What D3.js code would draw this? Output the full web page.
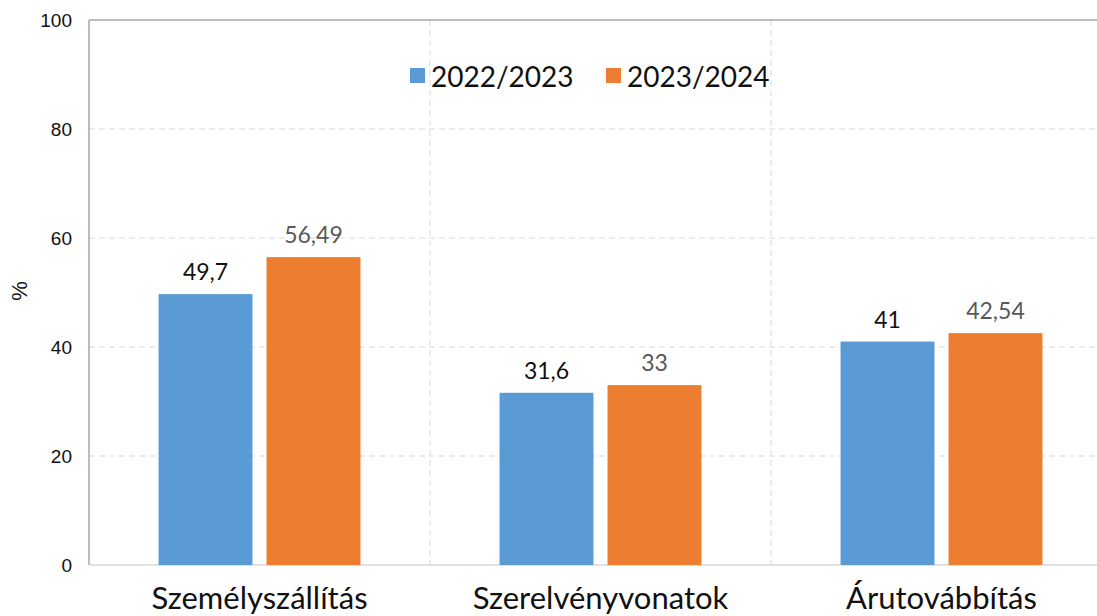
<!DOCTYPE html>
<html>
<head>
<meta charset="utf-8">
<script src="https://cdn.jsdelivr.net/npm/d3@7"></script>
<style>
  body { margin: 0; background: #fff; }
  svg { display: block; }
</style>
</head>
<body>
<svg id="chart" width="1097" height="616"></svg>
<script>
const categories = ["Személyszállítás", "Szerelvényvonatok", "Árutovábbítás"];
const seriesNames = ["2022/2023", "2023/2024"];
const values2022 = [49.7, 31.6, 41];
const values2023 = [56.49, 33, 42.54];
const labels2022 = ["49,7", "31,6", "41"];
const labels2023 = ["56,49", "33", "42,54"];
const yTicks = [0, 20, 40, 60, 80, 100];

const colors = ["#5b9bd5", "#ed7d31"];
const labelColors = ["#111", "#595959"];

const svg = d3.select("#chart");
const plotLeft = 89, plotTop = 20, plotBottom = 565, plotRight = 1112;

const x = d3.scaleBand().domain(categories).range([plotLeft, plotRight]);
const x1 = d3.scaleBand().domain(seriesNames).range([0, x.bandwidth()]).paddingInner(0.13).paddingOuter(0.644);
const y = d3.scaleLinear().domain([0, 100]).range([plotBottom, plotTop]);

// gridlines
svg.append("g").selectAll("line").data(yTicks.filter(d => d > 0 && d < 100)).enter()
  .append("line")
  .attr("x1", plotLeft).attr("x2", plotRight)
  .attr("y1", d => y(d)).attr("y2", d => y(d))
  .attr("stroke", "#d9d9d9").attr("stroke-dasharray", "6,4");

// vertical category separators
svg.append("g").selectAll("line").data(categories.slice(1)).enter()
  .append("line")
  .attr("x1", d => x(d)).attr("x2", d => x(d))
  .attr("y1", plotTop).attr("y2", plotBottom)
  .attr("stroke", "#d9d9d9").attr("stroke-dasharray", "6,4");

// borders
svg.append("line").attr("x1", plotLeft).attr("x2", plotRight).attr("y1", plotTop).attr("y2", plotTop)
  .attr("stroke", "#a6a6a6").attr("stroke-width", 1.5);
svg.append("line").attr("x1", plotLeft).attr("x2", plotLeft).attr("y1", plotTop).attr("y2", plotBottom)
  .attr("stroke", "#a6a6a6").attr("stroke-width", 1.5);
svg.append("line").attr("x1", plotLeft).attr("x2", plotRight).attr("y1", plotBottom).attr("y2", plotBottom)
  .attr("stroke", "#d9d9d9").attr("stroke-width", 1.5);

// y tick labels
svg.append("g").selectAll("text").data(yTicks).enter()
  .append("text")
  .attr("x", 72).attr("y", d => y(d) + 7)
  .attr("text-anchor", "end")
  .attr("font-family", "Liberation Sans, Arial, sans-serif")
  .attr("font-size", 19)
  .attr("fill", "#111")
  .text(d => d);

svg.append("text")
  .attr("transform", "translate(27,291) rotate(-90)")
  .attr("text-anchor", "middle")
  .attr("font-family", "Liberation Sans, Arial, sans-serif")
  .attr("font-size", 22)
  .attr("fill", "#111")
  .text("%");

// bars
const series = [values2022, values2023];
const labelSeries = [labels2022, labels2023];
series.forEach((vals, s) => {
  svg.append("g").selectAll("rect").data(categories).enter()
    .append("rect")
    .attr("x", (d) => x(d) + x1(seriesNames[s]))
    .attr("y", (d, i) => y(vals[i]))
    .attr("width", x1.bandwidth())
    .attr("height", (d, i) => y(0) - y(vals[i]))
    .attr("fill", colors[s]);

  svg.append("g").selectAll("text").data(categories).enter()
    .append("text")
    .attr("x", d => x(d) + x1(seriesNames[s]) + x1.bandwidth() / 2)
    .attr("y", (d, i) => y(vals[i]) - 14)
    .attr("text-anchor", "middle")
    .attr("font-family", "Lato, Open Sans, sans-serif")
    .attr("font-size", 23)
    .attr("fill", labelColors[s])
    .text((d, i) => labelSeries[s][i]);
});

// category labels
svg.append("g").selectAll("text").data(categories).enter()
  .append("text")
  .attr("x", d => x(d) + x.bandwidth() / 2)
  .attr("y", 609)
  .attr("text-anchor", "middle")
  .attr("font-family", "Lato, Open Sans, sans-serif")
  .attr("font-size", 31)
  .attr("fill", "#111")
  .text(d => d);

// legend
const legendX = [410, 606];
seriesNames.forEach((name, s) => {
  svg.append("rect")
    .attr("x", legendX[s]).attr("y", 68)
    .attr("width", 15).attr("height", 15)
    .attr("fill", colors[s]);
  svg.append("text")
    .attr("x", legendX[s] + 21).attr("y", 87)
    .attr("font-family", "Lato, Open Sans, sans-serif")
    .attr("font-size", 28)
    .attr("fill", "#111")
    .text(name);
});
</script>
</body>
</html>
